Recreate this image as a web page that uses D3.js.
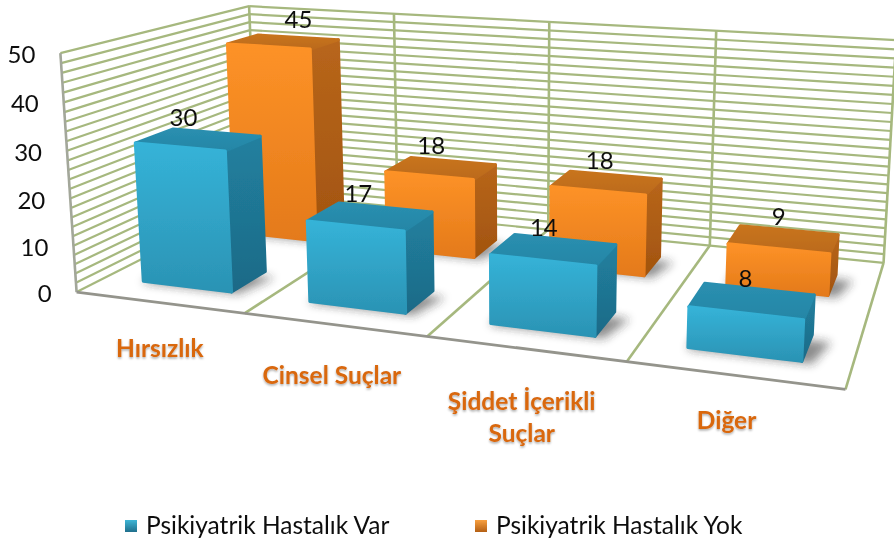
<!DOCTYPE html>
<html><head><meta charset="utf-8">
<script src="https://cdn.jsdelivr.net/npm/d3@7"></script>
<style>html,body{margin:0;padding:0;background:#fff}svg{display:block}text{font-family:Lato,"Open Sans",sans-serif}</style>
</head><body><svg id="c" width="894" height="545"></svg>
<script>
const categories = ["Hırsızlık","Cinsel Suçlar","Şiddet İçerikli Suçlar","Diğer"];
const seriesNames = ["Psikiyatrik Hastalık Var","Psikiyatrik Hastalık Yok"];
const varValues = [30,17,14,8];
const yokValues = [45,18,18,9];
const yTicks = [0,10,20,30,40,50];

// camera calibration: model (u,v,w) -> screen
const anchors = [[0,0,0,77,292],[0,1,0,60,55],[0,1,1,248,5],[4,1,1,894,38],[4,0,1,883,263],[4,0,0,848,390],
[1,0,0,245,312],[2,0,0,426,336],[3,0,0,625,361],[1,1,1,395,14],[2,1,1,550,22],[3,1,1,718,32],[3,0,1,710,247]];
function solve(A,b){const n=b.length;const M=A.map((r,i)=>[...r,b[i]]);
 for(let i=0;i<n;i++){let m=i;for(let k=i+1;k<n;k++)if(Math.abs(M[k][i])>Math.abs(M[m][i]))m=k;[M[i],M[m]]=[M[m],M[i]];
  for(let k=i+1;k<n;k++){const f=M[k][i]/M[i][i];for(let j=i;j<=n;j++)M[k][j]-=f*M[i][j];}}
 const x=Array(n).fill(0);for(let i=n-1;i>=0;i--){let s=M[i][n];for(let j=i+1;j<n;j++)s-=M[i][j]*x[j];x[i]=s/M[i][i];}return x;}
const rows=[],rhs=[];
anchors.forEach(([u,v,w,x,y])=>{rows.push([u,v,w,1,0,0,0,0,-x*u,-x*v,-x*w]);rhs.push(x);rows.push([0,0,0,0,u,v,w,1,-y*u,-y*v,-y*w]);rhs.push(y);});
const NtN=d3.range(11).map(i=>d3.range(11).map(j=>d3.sum(rows,r=>r[i]*r[j])));
const Ntb=d3.range(11).map(i=>d3.sum(rows,(r,k)=>r[i]*rhs[k]));
const P=solve(NtN,Ntb);
const proj=(u,v,w)=>{const d=P[8]*u+P[9]*v+P[10]*w+1;return [(P[0]*u+P[1]*v+P[2]*w+P[3])/d,(P[4]*u+P[5]*v+P[6]*w+P[7])/d];};

const xBand=d3.scaleBand().domain(categories).range([0,4]).paddingInner(0.46).paddingOuter(0.23);
const zBand=d3.scaleBand().domain(seriesNames).range([0.14,0.84]).paddingInner(0.627).paddingOuter(0);
const yScale=d3.scaleLinear().domain([0,50]).range([0,1]);

const svg=d3.select("#c");
const defs=svg.append("defs");
function grad(id,a,b){const g=defs.append("linearGradient").attr("id",id).attr("x1",0).attr("x2",0).attr("y1",0).attr("y2",1);
 g.append("stop").attr("offset",0).attr("stop-color",a);g.append("stop").attr("offset",1).attr("stop-color",b);}
grad("f0","#35b3d8","#2b93b4");grad("s0","#21809f","#1d6a87");grad("t0","#2a8fb0","#2486a6");
grad("f1","#fd9227","#e47a1a");grad("s1","#b8661b","#a2540f");grad("t1","#c8741f","#bb6a1a");
grad("l0","#3fb6d6","#1f6f8c");grad("l1","#f8a040","#b45f14");
defs.append("filter").attr("id","sh").attr("x","-30%").attr("y","-50%").attr("width","160%").attr("height","200%").append("feGaussianBlur").attr("stdDeviation",5);
defs.append("filter").attr("id","soft").attr("x",0).attr("y",0).attr("width",894).attr("height",545).attr("filterUnits","userSpaceOnUse").append("feGaussianBlur").attr("stdDeviation",0.5);
const ls=defs.append("filter").attr("id","ts").attr("x","-10%").attr("y","-20%").attr("width","120%").attr("height","150%");
ls.append("feDropShadow").attr("dx",0).attr("dy",1.5).attr("stdDeviation",1).attr("flood-color","#000").attr("flood-opacity",.35);

const root=svg.append("g").attr("filter","url(#soft)");
const poly=pts=>"M"+pts.map(p=>p.join(",")).join("L")+"Z";
const grid=root.append("g").attr("fill","none");
const GREEN="#a6b87e";
const line=(a,b,c,sw)=>grid.append("line").attr("x1",a[0]).attr("y1",a[1]).attr("x2",b[0]).attr("y2",b[1]).attr("stroke",c).attr("stroke-width",sw);
yScale.ticks(25).forEach(t=>{const v=yScale(t);
 line(proj(0,v,0),proj(0,v,1),GREEN,2.2);line(proj(0,v,1),proj(4,v,1),GREEN,2.2);});
d3.range(0,5).forEach(i=>{line(proj(i,0,1),proj(i,1,1),GREEN,2.6);if(i>0&&i<4)line(proj(i,0,0),proj(i,0,1),GREEN,2.6);});
line(proj(4,0,0),proj(4,0,1),GREEN,2.6);
line(proj(0,0,0),proj(0,1,0),"#a3a79a",2.6);
line(proj(0,0,0),proj(4,0,0),"#94948c",2.8);

const all=[{s:1,vals:yokValues},{s:0,vals:varValues}];
const shadows=root.append("g"),bars=root.append("g");
all.forEach(({s,vals})=>{vals.forEach((val,i)=>{
 const u0=xBand(categories[i]),u1=u0+xBand.bandwidth(),w0=zBand(seriesNames[s]),w1=w0+zBand.bandwidth(),h=yScale(val);
 const A=proj(u0,0,w0),B=proj(u1,0,w0),C=proj(u1,0,w1),E=proj(u0,h,w0),F=proj(u1,h,w0),G=proj(u1,h,w1),H=proj(u0,h,w1);
 shadows.append("path").attr("d",poly([proj(u0,0,w0-.01),proj(u1+.05,0,w0-.01),proj(u1+.1,0,w1-.04),proj(u0,0,w1-.04)])).attr("fill","#333").attr("opacity",.55).attr("filter","url(#sh)");
 const g=bars.append("g").attr("stroke-linejoin","round").attr("stroke-width",3);
 g.append("path").attr("d",poly([B,C,G,F])).attr("fill",`url(#s${s})`).attr("stroke",`url(#s${s})`);
 g.append("path").attr("d",poly([E,F,G,H])).attr("fill",`url(#t${s})`).attr("stroke",`url(#t${s})`);
 g.append("path").attr("d",poly([A,B,F,E])).attr("fill",`url(#f${s})`).attr("stroke",`url(#f${s})`);
});});
const labelDx=[[-15,-12,-10,-7],[15,-10,-7,-5]];
const labels=root.append("g").attr("font-size",24).attr("fill","#111").attr("text-anchor","middle");
all.forEach(({s,vals})=>vals.forEach((val,i)=>{
 const um=xBand(categories[i])+xBand.bandwidth()/2,wm=zBand(seriesNames[s])+zBand.bandwidth()/2;
 const p=proj(um,yScale(val),wm);
 labels.append("text").attr("x",p[0]+labelDx[s][i]).attr("y",p[1]-14).text(val);
}));
const ax=root.append("g").attr("font-size",24).attr("fill","#111").attr("text-anchor","end");
yTicks.forEach(t=>{const p=proj(0,yScale(t),0);ax.append("text").attr("x",p[0]-25).attr("y",p[1]+10).text(t);});

const catLines=[["Hırsızlık"],["Cinsel Suçlar"],["Şiddet İçerikli","Suçlar"],["Diğer"]];
const catDy=[47,51,53,46];
const catDx=[1,-2,-3,-7];
const cat=root.append("g").attr("font-size",24.5).attr("font-weight",700).attr("fill","#d9670f").attr("text-anchor","middle").attr("filter","url(#ts)");
categories.forEach((c,i)=>{const p=proj(i+.5,0,0);
 catLines[i].forEach((t,k)=>cat.append("text").attr("x",p[0]+catDx[i]).attr("y",p[1]+catDy[i]+8+k*32).text(t));});

const legX=[125,475];
const leg=root.append("g");
seriesNames.forEach((n,i)=>{
 leg.append("rect").attr("x",legX[i]).attr("y",520).attr("width",12).attr("height",12).attr("fill",`url(#l${i})`);
 leg.append("text").attr("x",legX[i]+21).attr("y",534).attr("font-size",24.5).attr("fill","#111").text(n);
});
</script></body></html>
